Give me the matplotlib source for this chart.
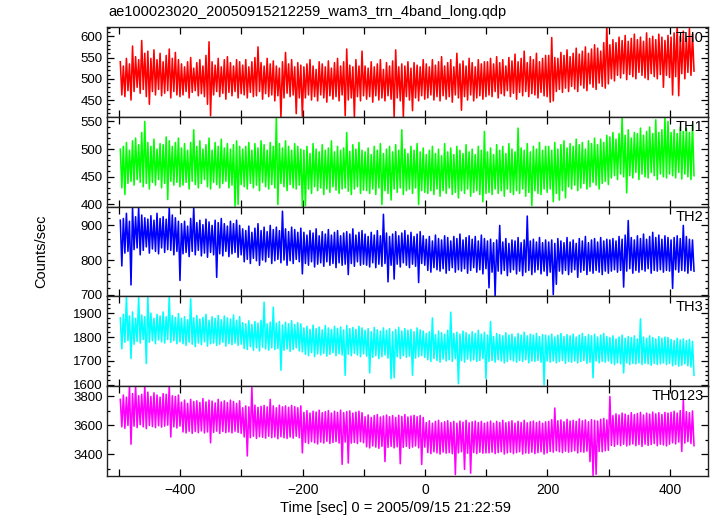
import numpy as np
import matplotlib.pyplot as plt
from matplotlib.ticker import MultipleLocator

plt.rcParams['font.family'] = ['Liberation Sans', 'DejaVu Sans']

title = "ae100023020_20050915212259_wam3_trn_4band_long.qdp"
bands = ["TH0", "TH1", "TH2", "TH3", "TH0123"]
colors = ["#ff0000", "#00ff00", "#0000ff", "#00ffff", "#ff00ff"]

# light curves: upper / lower extent of each 5 s bin, first bin at t = -498 s
t_first = -498
bin_sec = 5

th0_hi = [540, 530, 548, 535, 577, 552, 545, 590, 560, 565, 548, 568, 545, 560, 540, 555, 570, 548, 562, 545,
          535, 528, 540, 550, 525, 538, 545, 530, 555, 587, 540, 532, 548, 528, 545, 552, 538, 530, 545, 540,
          532, 545, 528, 540, 550, 575, 538, 530, 548, 535, 542, 530, 525, 540, 562, 535, 545, 528, 538, 532,
          528, 535, 545, 530, 522, 540, 535, 528, 542, 525, 538, 548, 530, 540, 570, 532, 528, 545, 530, 565,
          530, 525, 540, 528, 535, 545, 522, 538, 530, 542, 568, 528, 535, 530, 540, 525, 538, 532, 528, 545,
          535, 528, 545, 532, 540, 552, 530, 538, 545, 528, 560, 535, 542, 530, 548, 538, 528, 545, 535, 540,
          540, 548, 535, 552, 538, 545, 530, 550, 542, 558, 540, 548, 565, 538, 552, 545, 560, 540, 548, 555,
          555, 597, 550, 548, 562, 555, 568, 552, 560, 572, 558, 565, 575, 560, 570, 580, 572, 565, 585, 625,
          580, 592, 585, 598, 590, 602, 588, 595, 605, 592, 598, 588, 608, 595, 600, 592, 605, 598, 590, 602,
          598, 608, 625, 600, 612, 596, 618, 605]
th0_lo = [462, 458, 472, 450, 470, 480, 466, 475, 458, 440, 470, 462, 475, 460, 466, 472, 455, 470, 462, 458,
          462, 470, 455, 468, 472, 460, 465, 458, 440, 413, 462, 470, 458, 466, 452, 468, 460, 470, 455, 465,
          462, 455, 468, 458, 460, 470, 452, 465, 458, 462, 448, 460, 410, 455, 466, 458, 462, 418, 455, 412,
          455, 462, 450, 458, 448, 462, 455, 445, 460, 452, 458, 448, 462, 413, 450, 455, 410, 458, 448, 460,
          452, 458, 445, 460, 450, 455, 448, 460, 452, 410, 455, 448, 410, 458, 450, 425, 455, 448, 460, 452,
          455, 462, 450, 458, 448, 460, 452, 458, 445, 462, 455, 426, 458, 450, 462, 448, 455, 460, 452, 458,
          462, 458, 470, 455, 465, 460, 472, 458, 466, 452, 468, 460, 470, 458, 465, 462, 455, 468, 460, 458,
          445, 448, 470, 475, 468, 478, 470, 482, 476, 470, 485, 478, 472, 488, 480, 475, 490, 482, 478, 488,
          500, 495, 508, 502, 512, 498, 510, 505, 500, 515, 508, 502, 498, 512, 505, 500, 510, 480, 508, 503,
          462, 505, 460, 512, 500, 515, 508, 518]

th1_hi = [500, 505, 512, 498, 515, 520, 508, 530, 550, 512, 505, 518, 500, 510, 508, 522, 515, 505, 512, 520,
          502, 510, 498, 512, 535, 505, 515, 500, 508, 520, 498, 512, 505, 518, 502, 510, 500, 508, 515, 505,
          500, 505, 512, 498, 510, 502, 515, 508, 498, 512, 505, 558, 510, 502, 515, 505, 498, 510, 505, 500,
          498, 505, 492, 510, 500, 495, 508, 498, 502, 515, 495, 505, 498, 502, 530, 496, 508, 500, 512, 498,
          495, 502, 490, 505, 498, 510, 492, 500, 505, 495, 508, 498, 535, 500, 492, 505, 498, 510, 495, 502,
          490, 498, 505, 492, 500, 488, 510, 495, 502, 490, 505, 498, 492, 508, 495, 500, 490, 505, 498, 532,
          495, 502, 490, 508, 498, 505, 492, 510, 500, 495, 538, 502, 498, 510, 495, 505, 500, 512, 498, 505,
          505, 498, 512, 500, 508, 515, 502, 510, 505, 518, 508, 512, 500, 515, 510, 520, 508, 518, 512, 525,
          522, 530, 518, 528, 558, 525, 535, 520, 530, 528, 538, 525, 532, 540, 528, 553, 530, 535, 556, 550,
          530, 535, 528, 540, 532, 538, 530, 545]
th1_lo = [430, 418, 438, 442, 435, 445, 440, 432, 438, 428, 440, 435, 445, 430, 438, 409, 442, 435, 440, 432,
          435, 440, 428, 442, 436, 430, 438, 445, 432, 428, 440, 436, 430, 438, 442, 430, 435, 397, 400, 436,
          432, 428, 438, 430, 435, 425, 440, 432, 428, 436, 430, 400, 438, 432, 425, 436, 430, 428, 435, 397,
          398, 428, 420, 432, 425, 430, 418, 428, 422, 432, 426, 420, 428, 430, 424, 418, 428, 432, 420, 426,
          425, 420, 428, 418, 430, 400, 425, 420, 408, 428, 422, 430, 418, 425, 428, 420, 430, 400, 425, 422,
          420, 425, 418, 428, 415, 425, 420, 430, 418, 422, 412, 425, 420, 428, 415, 422, 425, 418, 405, 420,
          422, 418, 428, 420, 425, 415, 428, 422, 418, 425, 420, 428, 415, 422, 398, 425, 420, 418, 428, 422,
          428, 405, 420, 408, 425, 412, 432, 428, 435, 425, 430, 438, 428, 432, 440, 435, 428, 438, 442, 436,
          448, 452, 445, 455, 450, 421, 452, 448, 458, 445, 455, 450, 448, 458, 452, 445, 455, 450, 448, 455,
          452, 448, 458, 446, 455, 450, 445, 452]

th2_hi = [915, 920, 935, 912, 951, 925, 951, 930, 922, 918, 928, 915, 935, 920, 925, 918, 951, 930, 922, 912,
          905, 912, 898, 920, 953, 908, 915, 902, 918, 910, 900, 915, 908, 920, 905, 898, 912, 905, 915, 900,
          890, 885, 898, 880, 892, 905, 885, 895, 882, 900, 888, 895, 885, 941, 890, 882, 895, 888, 880, 892,
          880, 872, 885, 878, 890, 870, 882, 875, 888, 872, 880, 885, 870, 878, 882, 875, 890, 872, 880, 885,
          875, 868, 880, 872, 885, 870, 932, 878, 868, 875, 882, 870, 878, 885, 872, 880, 868, 875, 882, 870,
          860, 868, 855, 872, 862, 858, 870, 865, 855, 868, 862, 875, 858, 865, 870, 860, 868, 855, 872, 862,
          855, 860, 850, 858, 900, 852, 862, 848, 858, 855, 865, 850, 858, 927, 855, 860, 852, 865, 850, 858,
          852, 858, 848, 862, 855, 850, 865, 852, 858, 848, 862, 855, 868, 850, 858, 862, 852, 865, 855, 860,
          858, 862, 855, 868, 860, 872, 914, 865, 858, 870, 862, 875, 860, 868, 880, 865, 872, 860, 870, 865,
          858, 865, 870, 862, 900, 868, 860, 858]
th2_lo = [783, 820, 825, 728, 830, 835, 815, 828, 838, 820, 832, 825, 818, 835, 822, 830, 828, 815, 825, 741,
          818, 822, 810, 825, 815, 828, 812, 820, 808, 822, 815, 750, 818, 812, 825, 810, 818, 822, 808, 815,
          795, 802, 790, 805, 798, 785, 800, 795, 808, 790, 798, 802, 792, 800, 785, 798, 790, 802, 795, 760,
          790, 785, 795, 780, 788, 792, 782, 795, 785, 790, 778, 792, 785, 788, 758, 790, 782, 795, 785, 788,
          785, 780, 792, 778, 788, 782, 790, 737, 785, 745, 788, 780, 792, 785, 778, 788, 782, 735, 790, 785,
          770, 765, 778, 772, 768, 775, 762, 770, 778, 765, 772, 768, 775, 762, 770, 778, 765, 772, 760, 775,
          720, 765, 696, 768, 760, 770, 755, 765, 772, 760, 768, 755, 765, 770, 758, 765, 772, 760, 768, 755,
          765, 700, 730, 768, 760, 770, 758, 765, 772, 750, 765, 770, 758, 768, 762, 770, 765, 758, 768, 762,
          768, 772, 765, 770, 722, 768, 775, 762, 770, 765, 772, 768, 775, 762, 770, 768, 772, 765, 770, 768,
          718, 772, 765, 770, 768, 762, 770, 768]

th3_hi = [1880, 1895, 1967, 1888, 1905, 1878, 1967, 1892, 1885, 1967, 1900, 1878, 1895, 1888, 1905, 1885, 1967, 1890, 1882, 1898,
          1878, 1885, 1872, 1960, 1880, 1890, 1875, 1882, 1895, 1870, 1885, 1878, 1890, 1872, 1888, 1880, 1875, 1892, 1870, 1885,
          1860, 1855, 1868, 1852, 1865, 1858, 1870, 1946, 1855, 1862, 1925, 1858, 1865, 1850, 1862, 1855, 1868, 1852, 1860, 1855,
          1838, 1845, 1832, 1850, 1835, 1842, 1830, 1848, 1838, 1832, 1845, 1836, 1842, 1830, 1848, 1835, 1840, 1832, 1845, 1838,
          1828, 1835, 1822, 1840, 1830, 1825, 1838, 1828, 1835, 1822, 1832, 1840, 1825, 1835, 1828, 1832, 1822, 1838, 1830, 1825,
          1815, 1822, 1880, 1810, 1825, 1818, 1812, 1828, 1904, 1815, 1820, 1812, 1825, 1818, 1810, 1822, 1815, 1828, 1812, 1820,
          1808, 1865, 1802, 1815, 1810, 1805, 1818, 1808, 1812, 1800, 1815, 1808, 1820, 1805, 1812, 1808, 1815, 1802, 1810, 1808,
          1805, 1812, 1800, 1808, 1815, 1802, 1810, 1805, 1812, 1800, 1808, 1815, 1802, 1810, 1805, 1812, 1800, 1808, 1815, 1802,
          1798, 1805, 1792, 1800, 1808, 1795, 1802, 1798, 1805, 1792, 1876, 1800, 1795, 1805, 1798, 1792, 1802, 1795, 1800, 1798,
          1790, 1785, 1795, 1788, 1792, 1785, 1790, 1782]
th3_lo = [1751, 1778, 1785, 1710, 1770, 1782, 1775, 1790, 1689, 1778, 1785, 1772, 1788, 1780, 1775, 1790, 1778, 1785, 1772, 1780,
          1772, 1765, 1778, 1770, 1760, 1775, 1768, 1780, 1762, 1772, 1775, 1765, 1770, 1778, 1762, 1772, 1768, 1775, 1765, 1770,
          1752, 1748, 1760, 1745, 1755, 1742, 1758, 1750, 1745, 1755, 1748, 1752, 1661, 1745, 1750, 1740, 1748, 1755, 1742, 1738,
          1728, 1722, 1735, 1718, 1730, 1725, 1732, 1720, 1728, 1735, 1722, 1730, 1725, 1640, 1728, 1722, 1732, 1725, 1718, 1730,
          1720, 1650, 1715, 1722, 1710, 1718, 1725, 1712, 1626, 1630, 1718, 1710, 1722, 1715, 1720, 1640, 1712, 1718, 1722, 1715,
          1705, 1698, 1710, 1702, 1695, 1708, 1700, 1705, 1698, 1710, 1605, 1702, 1695, 1708, 1700, 1705, 1698, 1702, 1710, 1626,
          1698, 1702, 1695, 1705, 1700, 1692, 1698, 1705, 1700, 1695, 1702, 1698, 1705, 1692, 1700, 1698, 1702, 1695, 1600, 1700,
          1695, 1700, 1692, 1698, 1702, 1690, 1698, 1695, 1700, 1692, 1698, 1702, 1690, 1695, 1630, 1700, 1692, 1698, 1695, 1700,
          1690, 1685, 1692, 1688, 1650, 1692, 1685, 1690, 1688, 1692, 1685, 1690, 1688, 1682, 1690, 1685, 1688, 1692, 1685, 1690,
          1680, 1685, 1678, 1682, 1688, 1680, 1675, 1640]

th0123_hi = [3780, 3810, 3795, 3872, 3820, 3872, 3805, 3815, 3872, 3830, 3800, 3825, 3810, 3795, 3820, 3815, 3872, 3805, 3800, 3810,
             3760, 3775, 3752, 3780, 3765, 3770, 3758, 3785, 3762, 3775, 3768, 3755, 3780, 3762, 3770, 3758, 3775, 3765, 3752, 3770,
             3722, 3735, 3728, 3862, 3740, 3725, 3732, 3738, 3728, 3780, 3735, 3722, 3740, 3728, 3735, 3725, 3738, 3730, 3722, 3735,
             3690, 3702, 3685, 3698, 3692, 3705, 3688, 3695, 3702, 3685, 3698, 3690, 3705, 3688, 3695, 3700, 3685, 3692, 3698, 3688,
             3660, 3672, 3655, 3668, 3675, 3658, 3665, 3672, 3660, 3668, 3655, 3670, 3662, 3675, 3658, 3665, 3670, 3660, 3668, 3655,
             3620, 3632, 3615, 3628, 3635, 3618, 3625, 3632, 3620, 3628, 3615, 3630, 3622, 3635, 3618, 3625, 3630, 3620, 3628, 3615,
             3622, 3630, 3615, 3628, 3620, 3635, 3618, 3625, 3632, 3615, 3628, 3620, 3635, 3618, 3625, 3630, 3620, 3628, 3615, 3625,
             3628, 3640, 3720, 3632, 3638, 3625, 3642, 3630, 3635, 3628, 3645, 3632, 3638, 3625, 3640, 3635, 3630, 3642, 3648, 3638,
             3800, 3668, 3680, 3672, 3685, 3678, 3670, 3688, 3675, 3682, 3690, 3672, 3685, 3678, 3692, 3680, 3688, 3675, 3690, 3685,
             3690, 3698, 3685, 3702, 3780, 3695, 3688, 3700]
th0123_lo = [3590, 3580, 3600, 3470, 3595, 3585, 3605, 3590, 3578, 3600, 3592, 3585, 3598, 3588, 3595, 3602, 3520, 3590, 3582, 3595,
             3555, 3548, 3560, 3545, 3558, 3550, 3562, 3548, 3555, 3480, 3552, 3560, 3545, 3558, 3550, 3555, 3548, 3560, 3552, 3545,
             3520, 3389, 3515, 3525, 3510, 3522, 3518, 3512, 3525, 3515, 3520, 3508, 3522, 3515, 3510, 3520, 3512, 3525, 3515, 3410,
             3482, 3475, 3488, 3480, 3472, 3485, 3478, 3490, 3475, 3482, 3488, 3478, 3331, 3485, 3340, 3478, 3482, 3475, 3488, 3480,
             3452, 3445, 3458, 3450, 3442, 3455, 3350, 3448, 3455, 3445, 3452, 3335, 3448, 3455, 3442, 3450, 3458, 3445, 3330, 3450,
             3412, 3405, 3418, 3410, 3402, 3415, 3408, 3412, 3405, 3260, 3410, 3418, 3296, 3408, 3270, 3412, 3405, 3415, 3408, 3410,
             3410, 3415, 3405, 3412, 3418, 3402, 3410, 3415, 3405, 3412, 3418, 3402, 3410, 3408, 3415, 3405, 3412, 3418, 3402, 3410,
             3420, 3415, 3425, 3418, 3412, 3422, 3415, 3420, 3425, 3410, 3418, 3415, 3422, 3350, 3255, 3262, 3420, 3418, 3425, 3428,
             3462, 3455, 3468, 3460, 3470, 3458, 3465, 3472, 3460, 3468, 3455, 3470, 3462, 3468, 3475, 3460, 3470, 3465, 3458, 3470,
             3480, 3472, 3485, 3420, 3478, 3488, 3475, 3460]

highs = [th0_hi, th1_hi, th2_hi, th3_hi, th0123_hi]
lows = [th0_lo, th1_lo, th2_lo, th3_lo, th0123_lo]

# axis settings per panel
ylims = [(410, 621), (396, 558), (695, 954), (1595, 1970), (3252, 3872)]
yticks = [[450, 500, 550, 600], [400, 450, 500, 550], [700, 800, 900],
          [1600, 1700, 1800, 1900], [3400, 3600, 3800]]
yminor = [10, 10, 20, 20, 100]

fig, axes = plt.subplots(5, 1, sharex=True, figsize=(7.17, 5.16), dpi=100,
                         gridspec_kw=dict(hspace=0))
fig.subplots_adjust(left=0.149, right=0.988, top=0.947, bottom=0.078)

for i, ax in enumerate(axes):
    hi = np.array(highs[i], dtype=float)
    lo = np.array(lows[i], dtype=float)
    t = t_first + bin_sec * np.arange(len(hi))
    # zig-zag through the top and bottom of every bin, like a dense light curve
    tt = np.column_stack((t, t + bin_sec / 2)).ravel()
    yy = np.column_stack((hi, lo)).ravel()
    ax.plot(tt, yy, color=colors[i], lw=1.15)

    ax.set_ylim(*ylims[i])
    ax.set_yticks(yticks[i])
    ax.yaxis.set_minor_locator(MultipleLocator(yminor[i]))
    ax.tick_params(which='both', direction='in', top=True, right=True,
                   labelsize=9.5, width=0.9, pad=3)
    ax.tick_params(which='major', length=5)
    ax.tick_params(which='minor', length=2.5)
    for s in ax.spines.values():
        s.set_linewidth(1.0)
        s.set_color('#222222')
    ax.text(0.992, 0.885, bands[i], transform=ax.transAxes, ha='right', va='center',
            fontsize=10.5)

axes[-1].set_xlim(-520, 463)
axes[-1].set_xticks([-400, -200, 0, 200, 400])
axes[-1].xaxis.set_minor_locator(MultipleLocator(100))
for ax in axes:
    ax.tick_params(axis='x', which='minor', length=5)
axes[-1].tick_params(axis='x', pad=5, labelsize=10)

fig.text(0.151, 0.977, title, ha='left', va='center', fontsize=10.5)
fig.text(0.058, 0.514, "Counts/sec", rotation=90, ha='center', va='center', fontsize=10.5)
fig.text(0.551, 0.016, "Time [sec] 0 = 2005/09/15 21:22:59", ha='center', va='center', fontsize=10.5)

fig.savefig("out.png", dpi=100)
